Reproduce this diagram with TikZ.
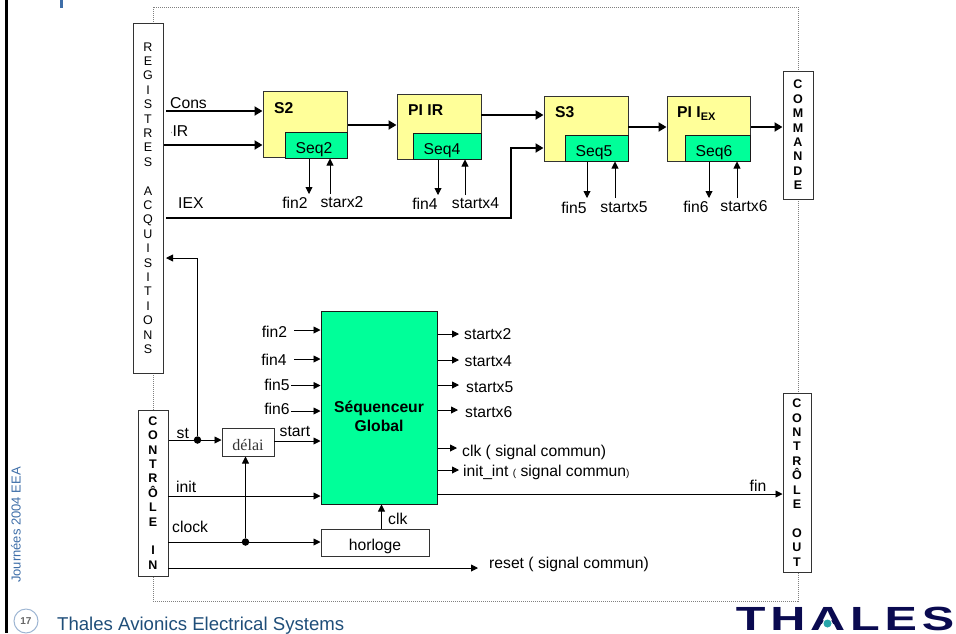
\documentclass[tikz,border=0pt]{standalone}
\usepackage{fontspec}
\setmainfont{Liberation Sans}
\newfontfamily\timesfont{Liberation Serif}
\newfontfamily\logofont[LetterSpace=10]{Liberation Sans Bold}
\usetikzlibrary{arrows.meta}
\definecolor{seqgreen}{RGB}{0,255,153}
\definecolor{blockyellow}{RGB}{255,255,153}
\definecolor{footblue}{RGB}{31,78,121}
\definecolor{sideblue}{RGB}{62,110,168}
\definecolor{logoblue}{RGB}{10,10,80}
\definecolor{logoteal}{RGB}{40,165,170}
\tikzset{
  lab/.style={inner sep=0pt,anchor=base west,font=\fontsize{15.7}{19}\selectfont},
  clab/.style={lab,anchor=base},
  blab/.style={lab,font=\fontsize{15.7}{19}\selectfont\bfseries},
  busarrow/.style={line width=2.7pt,-{Triangle[length=8pt,width=9pt]}},
  sigarrow/.style={line width=0.9pt,-{Triangle[length=7pt,width=7pt]}},
  blockbox/.style={draw=black!80,line width=1pt,fill=blockyellow,inner sep=0pt},
  seqbox/.style={draw=black!90,line width=1pt,fill=seqgreen,inner sep=0pt},
  whitebox/.style={draw=black!80,line width=1pt,fill=white,inner sep=0pt},
  vtext/.style={whitebox,align=center,font=\fontsize{12.5}{14.4}\selectfont},
  vbold/.style={vtext,font=\fontsize{12.5}{14.4}\selectfont\bfseries},
  jdot/.style={circle,fill=black,inner sep=0pt,minimum size=7.5pt},
}
\begin{document}
\begin{tikzpicture}[x=1pt,y=-1pt]
\useasboundingbox (0,0) rectangle (956,633);
% slide furniture:
\path[fill=black] (5,0) rectangle (7.5,633);
\path[fill=sideblue] (60,0) rectangle (63,8);
\draw[gray,line width=1pt,densely dotted] (153,7) rectangle (798,601);
% acquisition, command and control boxes:
\node[vtext,minimum width=30,minimum height=350] (regs) at (148,198) {R\\E\\G\\I\\S\\T\\R\\E\\S\\[14.4pt]A\\C\\Q\\U\\I\\S\\I\\T\\I\\O\\N\\S};
\node[vbold,minimum width=30,minimum height=128] (cmd) at (798,135) {C\\O\\M\\M\\A\\N\\D\\E};
\node[vbold,minimum width=30,minimum height=166] (ctlin) at (153,493) {C\\O\\N\\T\\R\\Ô\\L\\E\\[14.4pt]I\\N};
\node[vbold,minimum width=28,minimum height=179] (ctlout) at (797,482.5) {C\\O\\N\\T\\R\\Ô\\L\\E\\[14.4pt]O\\U\\T};
% control chain, top row:
\node[blockbox,minimum width=84,minimum height=66] (s2) at (305,124) {};
\node[blockbox,minimum width=84,minimum height=65] (pi4) at (439,126.5) {};
\node[blockbox,minimum width=84,minimum height=65] (s3) at (586,128.5) {};
\node[blockbox,minimum width=83,minimum height=65] (pi6) at (708.5,128.5) {};
\node[seqbox,minimum width=62,minimum height=26] (seq2) at (316,145) {};
\node[seqbox,minimum width=68,minimum height=26] (seq4) at (447,146) {};
\node[seqbox,minimum width=63,minimum height=26] (seq5) at (596.5,148) {};
\node[seqbox,minimum width=65,minimum height=26] (seq6) at (717.5,148) {};
\node[blab] (s2lab) at (274,113) {S2};
\node[blab] (pi4lab) at (408,115) {PI IR};
\node[blab] (s3lab) at (555,117) {S3};
\node[blab] (pi6lab) at (677,117) {PI I\raisebox{-3.5pt}{\fontsize{11}{11}\selectfont EX}};
\node[clab] (seq2lab) at (314,153) {Seq2};
\node[clab] (seq4lab) at (442,154) {Seq4};
\node[clab] (seq5lab) at (594,156) {Seq5};
\node[clab] (seq6lab) at (714,156) {Seq6};
% bus signals:
\node[lab] (conslab) at (170,108) {Cons};
\node[lab] (irlab) at (171,136) {{\fontsize{6}{6}\selectfont '}IR};
\node[lab] (iexlab) at (178,208) {IEX};
\coordinate (consin) at (166,111);
\coordinate (irin) at (164,145);
\coordinate (iexin) at (166,218);
\coordinate (iexup) at (511,148);
\coordinate (s2out) at (348,125);
\coordinate (pi4out) at (481,115);
\coordinate (s3out) at (628,127);
\coordinate (pi6out) at (751,127);
\draw[busarrow] (consin) -- (consin -| s2.west);
\draw[busarrow] (irin) -- (irin -| s2.west);
\draw[busarrow] (iexin) -| (iexup) -- (iexup -| s3.west);
\draw[busarrow] (s2out) -- (s2out -| pi4.west);
\draw[busarrow] (pi4out) -- (pi4out -| s3.west);
\draw[busarrow] (s3out) -- (s3out -| pi6.west);
\draw[busarrow] (pi6out) -- (pi6out -| cmd.west);
% fin and start of each block:
\coordinate (f2) at (309,194);
\coordinate (x2) at (330,194);
\coordinate (f4) at (438,195);
\coordinate (x4) at (465,195);
\coordinate (f5) at (587,198);
\coordinate (x5) at (615,198);
\coordinate (f6) at (709,198);
\coordinate (x6) at (737,198);
\draw[sigarrow] (seq2.south -| f2) -- (f2);
\draw[sigarrow] (x2) -- (seq2.south -| x2);
\draw[sigarrow] (seq4.south -| f4) -- (f4);
\draw[sigarrow] (x4) -- (seq4.south -| x4);
\draw[sigarrow] (seq5.south -| f5) -- (f5);
\draw[sigarrow] (x5) -- (seq5.south -| x5);
\draw[sigarrow] (seq6.south -| f6) -- (f6);
\draw[sigarrow] (x6) -- (seq6.south -| x6);
\node[clab] (fin2a) at (295,208) {fin2};
\node[clab] (starx2) at (342,207) {starx2};
\node[clab] (fin4a) at (425,209) {fin4};
\node[clab] (startx4a) at (475.5,208) {startx4};
\node[clab] (fin5a) at (574,213) {fin5};
\node[clab] (startx5a) at (624,212) {startx5};
\node[clab] (fin6a) at (696,212) {fin6};
\node[clab] (startx6a) at (744,211) {startx6};
% global sequencer:
\node[seqbox,minimum width=116,minimum height=193] (seqglob) at (379,407.5) {};
\node[blab,anchor=base,align=center] (seqlab) at (379,431) {Séquenceur\\Global};
\node[whitebox,minimum width=52,minimum height=28] (delai) at (248,442) {};
\node[clab,font=\fontsize{16}{19}\timesfont\selectfont,black!80] (delailab) at (248,450) {délai};
\node[whitebox,minimum width=108,minimum height=27] (horloge) at (375,542.5) {};
\node[clab] (horlab) at (375,550) {horloge};
% inputs of the sequencer:
\node[clab] (fin2b) at (274.5,337) {fin2};
\node[clab] (fin4b) at (274,365) {fin4};
\node[clab] (fin5b) at (277,390) {fin5};
\node[clab] (fin6b) at (277,414) {fin6};
\coordinate (i2) at (294,330);
\coordinate (i4) at (294,359);
\coordinate (i5) at (291,385.5);
\coordinate (i6) at (291,411);
\draw[sigarrow] (i2) -- (i2 -| seqglob.west);
\draw[sigarrow] (i4) -- (i4 -| seqglob.west);
\draw[sigarrow] (i5) -- (i5 -| seqglob.west);
\draw[sigarrow] (i6) -- (i6 -| seqglob.west);
% outputs of the sequencer:
\coordinate (o2) at (459,334);
\coordinate (o4) at (459,360);
\coordinate (o5) at (459,385);
\coordinate (o6) at (458,410);
\coordinate (oclk) at (457,448);
\coordinate (oinit) at (459,470);
\draw[sigarrow] (o2 -| seqglob.east) -- (o2);
\draw[sigarrow] (o4 -| seqglob.east) -- (o4);
\draw[sigarrow] (o5 -| seqglob.east) -- (o5);
\draw[sigarrow] (o6 -| seqglob.east) -- (o6);
\draw[sigarrow] (oclk -| seqglob.east) -- (oclk);
\draw[sigarrow] (oinit -| seqglob.east) -- (oinit);
\node[lab] (ox2) at (464,339) {startx2};
\node[lab] (ox4) at (464.5,366) {startx4};
\node[lab] (ox5) at (466,392) {startx5};
\node[lab] (ox6) at (465,417) {startx6};
\node[lab] (oclklab) at (462,456) {clk ( signal commun)};
\node[lab] (oinitlab) at (463,476) {init\_int {\fontsize{10}{10}\selectfont(} signal commun{\fontsize{10}{10}\selectfont)}};
\coordinate (ofin) at (437,494);
\draw[sigarrow] (ofin) -- (ofin -| ctlout.west);
\node[clab] (finlab) at (758,491) {fin};
% control signals:
\node[jdot] (stdot) at (197.5,440) {};
\node[jdot] (clkdot) at (245.5,542) {};
\coordinate (regback) at (166,258);
\coordinate (initin) at (168,496);
\coordinate (resetin) at (168,568);
\coordinate (resetout) at (478,568);
\coordinate (startin) at (274,441);
\coordinate (clkin) at (168,542);
\draw[line width=0.9pt] (stdot -| ctlin.east) -- (stdot);
\draw[sigarrow] (stdot) -- (stdot -| delai.west);
\draw[sigarrow] (stdot) |- (regback);
\draw[sigarrow] (startin) -- (startin -| seqglob.west);
\draw[sigarrow] (initin) -- (initin -| seqglob.west);
\draw[line width=0.9pt] (clkin) -- (clkdot);
\draw[sigarrow] (clkdot) -- (clkdot -| horloge.west);
\draw[sigarrow] (clkdot) -- (clkdot |- delai.south);
\draw[sigarrow] (resetin) -- (resetout);
\draw[sigarrow] (horloge.north -| 381.5,0) -- (seqglob.south -| 381.5,0);
\node[lab] (stlab) at (176.5,438) {st};
\node[clab] (startlab) at (295,436) {start};
\node[lab] (initlab) at (176,492) {init};
\node[lab] (clocklab) at (172,532) {clock};
\node[lab] (clklab) at (388,524) {clk};
\node[lab] (resetlab) at (489,568) {reset ( signal commun)};
% footer:
\node[lab,font=\fontsize{18.6}{20}\selectfont,text=footblue] (footer) at (57,630) {Thales Avionics Electrical Systems};
\node[inner sep=0pt,rotate=90,font=\fontsize{13}{15}\selectfont,text=sideblue] (side) at (16,525) {Journées 2004 EEA};
\node[circle,draw=sideblue!50,line width=1pt,minimum size=24pt,inner sep=0pt,font=\fontsize{10}{12}\selectfont\bfseries,text=black!60] (page) at (26,621) {17};
\node[inner sep=0pt,anchor=base west,xscale=1.45,font=\fontsize{33.5}{33.5}\logofont,text=logoblue] (logo) at (735.5,630) {THALES};
\path[fill=white] (827.5,614) -- (818,631) -- (837,631) -- cycle;
\path[fill=logoteal] (827.5,623.5) circle (4);
\end{tikzpicture}
\end{document}
